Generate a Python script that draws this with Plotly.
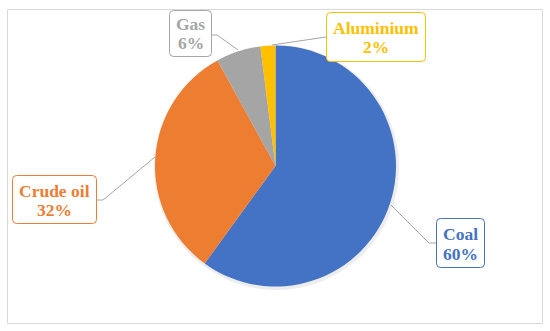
import plotly.graph_objects as go

# ---- data ----
categories = ["Coal", "Crude oil", "Gas", "Aluminium"]
values = [60, 32, 6, 2]
colors = ["#4472C4", "#ED7D31", "#A5A5A5", "#FFC000"]
pct_labels = ["60%", "32%", "6%", "2%"]

W, H = 550, 331
FONT = "Liberation Serif"

def px(x):
    return x / W

def py(y):
    return 1 - y / H

fig = go.Figure()
# soft shadow behind the pie
fig.add_trace(go.Pie(
    labels=["shadow"], values=[1], sort=False,
    marker=dict(colors=["rgba(0,0,0,0.07)"], line=dict(width=0)),
    textinfo="none", hoverinfo="skip", showlegend=False,
    domain=dict(x=[px(154), px(399)], y=[py(290), py(45)]),
))
fig.add_trace(go.Pie(
    labels=categories,
    values=values,
    sort=False,
    direction="clockwise",
    rotation=0,
    marker=dict(colors=colors, line=dict(width=0)),
    textinfo="none",
    hoverinfo="label+percent",
    showlegend=False,
    domain=dict(x=[px(155), px(396)], y=[py(287), py(45)]),
))

# label layout (pixel boxes: x0, x1, y0, y1), line centres, leader lines
boxes = {
    "Coal": (436, 485, 218, 268),
    "Crude oil": (12, 97, 175, 224),
    "Gas": (169, 212, 10, 57),
    "Aluminium": (326, 426, 12, 62),
}
line_y = {
    "Coal": (234, 253.5),
    "Crude oil": (190.5, 210),
    "Gas": (23.5, 43),
    "Aluminium": (27.5, 47),
}
leaders = {
    "Coal": [(391, 205), (429, 243), (436, 243)],
    "Crude oil": [(155, 157), (103, 200), (97, 200)],
    "Gas": [(238, 50), (217, 35), (212, 35)],
    "Aluminium": [(272, 45), (326, 37)],
}

shapes = []
annotations = []

# outer frame
shapes.append(dict(type="rect", xref="paper", yref="paper",
                   x0=px(7.5), x1=px(542.5), y0=py(323.5), y1=py(9.5),
                   line=dict(color="#D9D9D9", width=1), fillcolor="rgba(0,0,0,0)",
                   layer="below"))

def rounded_path(x0, x1, y0, y1, r=4):
    X0, X1 = px(x0), px(x1)
    Yt, Yb = py(y0), py(y1)
    rx, ry = r / W, r / H
    return (f"M {X0+rx},{Yt} L {X1-rx},{Yt} Q {X1},{Yt} {X1},{Yt-ry} "
            f"L {X1},{Yb+ry} Q {X1},{Yb} {X1-rx},{Yb} "
            f"L {X0+rx},{Yb} Q {X0},{Yb} {X0},{Yb+ry} "
            f"L {X0},{Yt-ry} Q {X0},{Yt} {X0+rx},{Yt} Z")

for cat, col, pct in zip(categories, colors, pct_labels):
    pts = leaders[cat]
    path = "M " + " L ".join(f"{px(x)},{py(y)}" for x, y in pts)
    shapes.append(dict(type="path", xref="paper", yref="paper", path=path,
                       line=dict(color="#A6A6A6", width=1), layer="above"))
    x0, x1, y0, y1 = boxes[cat]
    shapes.append(dict(type="path", xref="paper", yref="paper",
                       path=rounded_path(x0 + 0.5, x1 - 0.5, y0 + 0.5, y1 - 0.5),
                       line=dict(color=col, width=1), fillcolor="white", layer="above"))
    cx = (x0 + x1) / 2
    for txt, yy in zip([cat, pct], line_y[cat]):
        annotations.append(dict(
            x=px(cx), y=py(yy), xref="paper", yref="paper",
            text=txt, showarrow=False,
            xanchor="center", yanchor="middle",
            height=18, valign="middle",
            font=dict(family=FONT, size=17.5, color=col, weight="bold"),
        ))

fig.update_layout(
    width=W, height=H,
    margin=dict(l=0, r=0, t=0, b=0),
    paper_bgcolor="white",
    plot_bgcolor="white",
    shapes=shapes,
    annotations=annotations,
)

fig.write_html("out.html",
               config={"displayModeBar": False},
               post_script="document.body.style.margin='0';document.body.style.overflow='hidden';")
